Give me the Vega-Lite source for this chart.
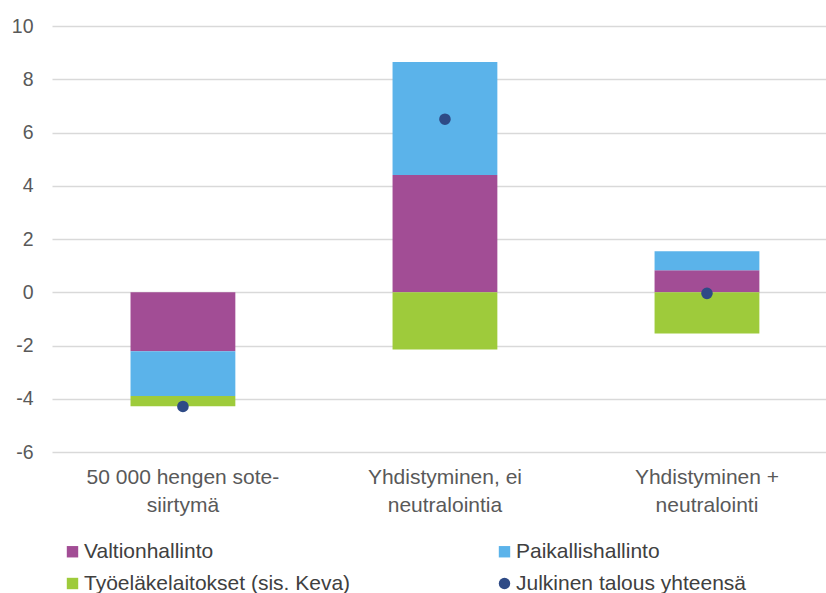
{
  "$schema": "https://vega.github.io/schema/vega-lite/v6.json",
  "autosize": "none",
  "padding": {"left": 52, "top": 26, "right": 0, "bottom": 141},
  "width": 774,
  "height": 426,
  "background": "white",
  "config": {
    "view": {"stroke": null},
    "font": "Liberation Sans"
  },
  "data": {
    "values": [
      {"skenaario": "50 000 hengen sote-siirtymä", "sarja": "Valtionhallinto", "k": 1, "arvo": -2.22},
      {"skenaario": "50 000 hengen sote-siirtymä", "sarja": "Paikallishallinto", "k": 2, "arvo": -1.68},
      {"skenaario": "50 000 hengen sote-siirtymä", "sarja": "Työeläkelaitokset (sis. Keva)", "k": 3, "arvo": -0.38},
      {"skenaario": "50 000 hengen sote-siirtymä", "sarja": "Julkinen talous yhteensä", "k": 4, "arvo": -4.29},
      {"skenaario": "Yhdistyminen, ei neutralointia", "sarja": "Valtionhallinto", "k": 1, "arvo": 4.4},
      {"skenaario": "Yhdistyminen, ei neutralointia", "sarja": "Paikallishallinto", "k": 2, "arvo": 4.25},
      {"skenaario": "Yhdistyminen, ei neutralointia", "sarja": "Työeläkelaitokset (sis. Keva)", "k": 3, "arvo": -2.15},
      {"skenaario": "Yhdistyminen, ei neutralointia", "sarja": "Julkinen talous yhteensä", "k": 4, "arvo": 6.5},
      {"skenaario": "Yhdistyminen + neutralointi", "sarja": "Valtionhallinto", "k": 1, "arvo": 0.83},
      {"skenaario": "Yhdistyminen + neutralointi", "sarja": "Paikallishallinto", "k": 2, "arvo": 0.71},
      {"skenaario": "Yhdistyminen + neutralointi", "sarja": "Työeläkelaitokset (sis. Keva)", "k": 3, "arvo": -1.55},
      {"skenaario": "Yhdistyminen + neutralointi", "sarja": "Julkinen talous yhteensä", "k": 4, "arvo": -0.04}
    ]
  },
  "encoding": {
    "x": {
      "field": "skenaario",
      "type": "nominal",
      "sort": null,
      "title": null,
      "scale": {"paddingInner": 0.6, "paddingOuter": 0.277, "align": 0.541},
      "axis": {
        "domain": false,
        "ticks": false,
        "tickSize": 0,
        "labelAngle": 0,
        "labelFontSize": 21,
        "labelColor": "#595959",
        "labelPadding": 14,
        "labelLineHeight": 28,
        "labelBaseline": "top",
        "labelLimit": 400,
        "labelExpr": "datum.label == '50 000 hengen sote-siirtymä' ? ['50 000 hengen sote-', 'siirtymä'] : datum.label == 'Yhdistyminen, ei neutralointia' ? ['Yhdistyminen, ei', 'neutralointia'] : ['Yhdistyminen +', 'neutralointi']"
      }
    }
  },
  "layer": [
    {
      "transform": [{"filter": "datum.k < 4"}],
      "mark": {"type": "bar"},
      "encoding": {
        "y": {
          "field": "arvo",
          "type": "quantitative",
          "stack": "zero",
          "title": null,
          "scale": {"domain": [-6, 10], "nice": false},
          "axis": {
            "values": [-6, -4, -2, 0, 2, 4, 6, 8, 10],
            "domain": false,
            "ticks": false,
            "tickSize": 0,
            "labelPadding": 19,
            "labelFontSize": 19.5,
            "labelColor": "#595959",
            "labelExpr": "datum.value < 0 ? '-' + abs(datum.value) : '' + datum.value",
            "gridColor": "#d9d9d9",
            "gridWidth": 1.5
          }
        },
        "color": {
          "field": "sarja",
          "type": "nominal",
          "title": null,
          "scale": {
            "domain": ["Valtionhallinto", "Paikallishallinto", "Työeläkelaitokset (sis. Keva)", "Julkinen talous yhteensä"],
            "range": ["#a24d95", "#5bb3ea", "#9ecb3b", "#2e4a86"]
          },
          "legend": {
            "orient": "none",
            "direction": "horizontal",
            "legendX": 10,
            "legendY": 515,
            "columns": 2,
            "columnPadding": 143,
            "rowPadding": 10,
            "labelFontSize": 21,
            "labelLimit": 500,
            "labelColor": "#404040",
            "symbolSize": 130,
            "labelOffset": 1
          }
        },
        "order": {"field": "k", "type": "quantitative"}
      }
    },
    {
      "transform": [{"filter": "datum.k == 4"}],
      "mark": {"type": "point", "filled": true, "opacity": 1},
      "encoding": {
        "y": {"field": "arvo", "type": "quantitative"},
        "color": {"field": "sarja", "type": "nominal", "title": null},
        "shape": {
          "field": "sarja",
          "type": "nominal",
          "title": null,
          "scale": {
            "domain": ["Valtionhallinto", "Paikallishallinto", "Työeläkelaitokset (sis. Keva)", "Julkinen talous yhteensä"],
            "range": ["square", "square", "square", "circle"]
          }
        },
        "size": {"value": 135}
      }
    }
  ]
}
